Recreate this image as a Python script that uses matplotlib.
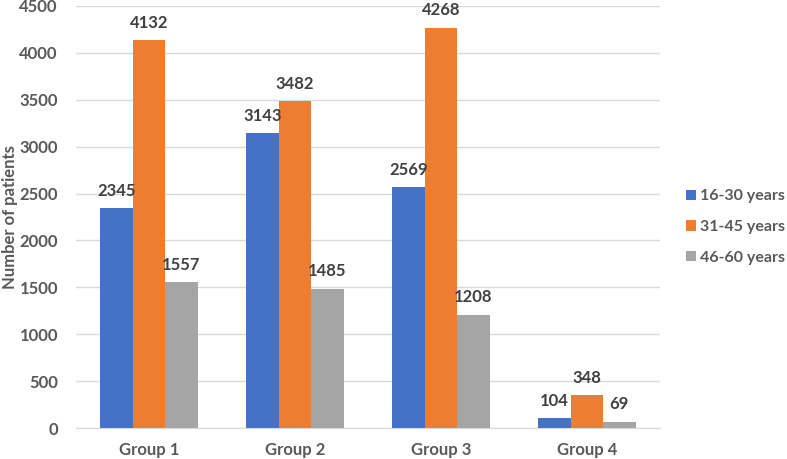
import numpy as np
import matplotlib
matplotlib.use("Agg")
from matplotlib import pyplot as plt

groups = ["Group 1", "Group 2", "Group 3", "Group 4"]
series_names = ["16-30 years", "31-45 years", "46-60 years"]
age_16_30 = [2345, 3143, 2569, 104]
age_31_45 = [4132, 3482, 4268, 348]
age_46_60 = [1557, 1485, 1208, 69]

colors = ["#4472C4", "#ED7D31", "#A5A5A5"]
plt.rcParams['font.family'] = ['Lato', 'DejaVu Sans']

fig = plt.figure(figsize=(7.87, 4.59), dpi=100)
ax = fig.add_axes([0.0966, 0.0675, 0.742, 0.9195])

x = np.arange(len(groups))
width = 0.222
for i, (vals, name) in enumerate(zip([age_16_30, age_31_45, age_46_60], series_names)):
    pos = x + (i - 1) * width
    ax.bar(pos, vals, width, color=colors[i], label=name, zorder=2)
    for p, v in zip(pos, vals):
        ax.text(p, v + 100, str(v), ha='center', va='bottom', fontsize=12,
                fontweight='bold', color='#404040')

ax.set_xlim(-0.5, len(groups) - 0.5)
ax.set_ylim(0, 4500)
ax.set_yticks(np.arange(0, 4501, 500))
ax.set_xticks(x)
ax.set_xticklabels(groups)
ax.grid(axis='y', color='#D9D9D9', linewidth=1, zorder=0)
ax.set_axisbelow(True)
for s in ['top', 'right', 'left']:
    ax.spines[s].set_visible(False)
ax.spines['bottom'].set_color('#D9D9D9')
ax.tick_params(axis='both', length=0, labelsize=12, labelcolor='#595959')
ax.tick_params(axis='y', pad=13)
ax.tick_params(axis='x', pad=10)
for lbl in ax.get_xticklabels() + ax.get_yticklabels():
    lbl.set_fontweight('bold')

ax.set_ylabel("Number of patients", fontsize=12, fontweight='bold', color='#595959')
ax.yaxis.set_label_coords(-0.1, 0.5)

leg = ax.legend(loc='center left', bbox_to_anchor=(1.02, 0.476), frameon=False,
                handlelength=0.6, handleheight=0.6, handletextpad=0.3,
                labelspacing=1.05, fontsize=11.5)
for t in leg.get_texts():
    t.set_fontweight('bold')
    t.set_color('#595959')

fig.savefig("out.png", dpi=100)
